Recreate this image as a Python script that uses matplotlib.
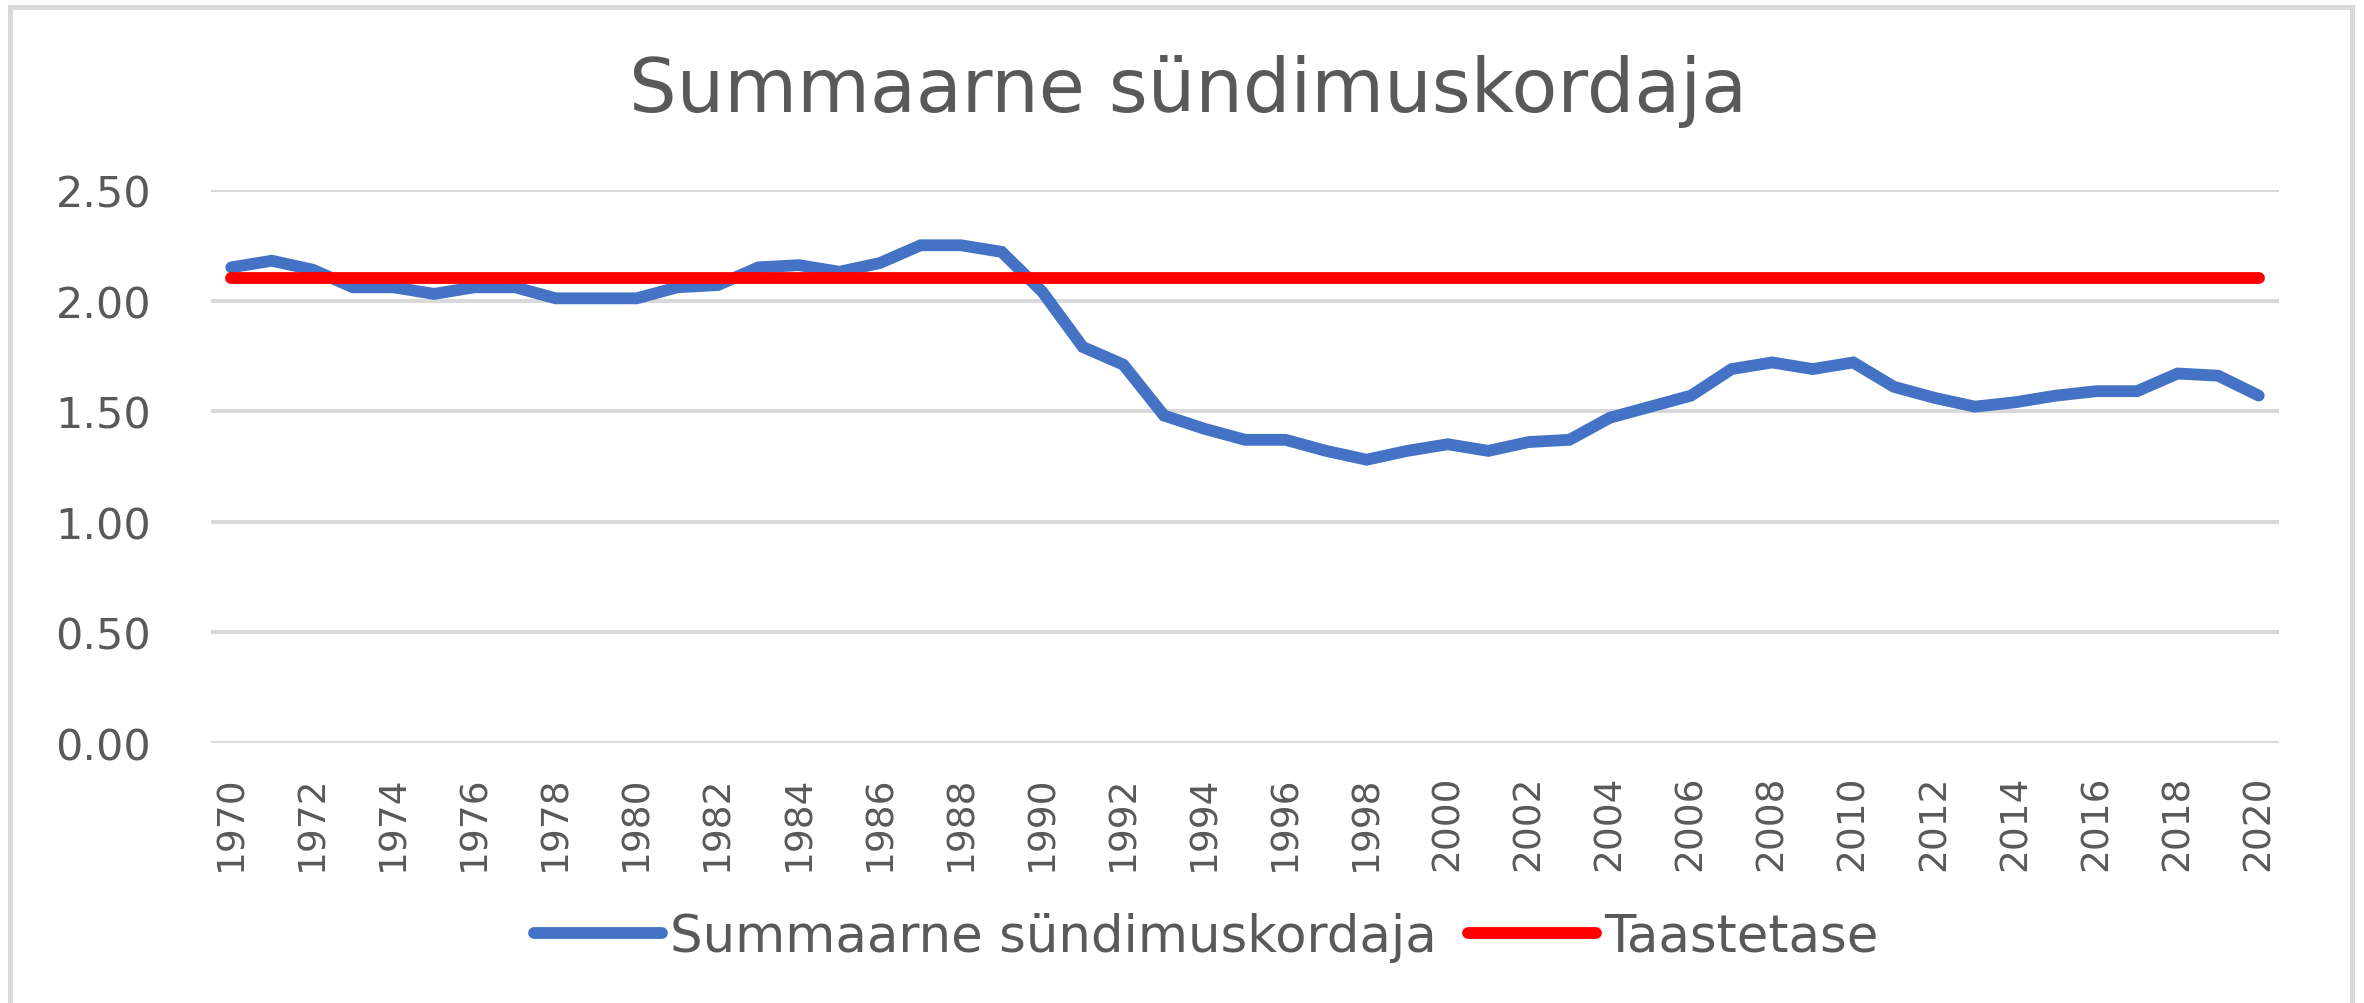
import matplotlib
matplotlib.use("Agg")
import matplotlib.pyplot as plt
from matplotlib.patches import Rectangle

years = list(range(1970, 2021))
tfr = [2.15, 2.18, 2.14, 2.06, 2.06, 2.03, 2.06, 2.06, 2.01, 2.01,
       2.01, 2.06, 2.07, 2.15, 2.16, 2.13, 2.17, 2.25, 2.25, 2.22,
       2.04, 1.79, 1.71, 1.48, 1.42, 1.37, 1.37, 1.32, 1.28, 1.32,
       1.35, 1.32, 1.36, 1.37, 1.47, 1.52, 1.57, 1.69, 1.72, 1.69,
       1.72, 1.61, 1.56, 1.52, 1.54, 1.57, 1.59, 1.59, 1.67, 1.66,
       1.57]
replacement = [2.10] * len(years)
yticks = [0.0, 0.5, 1.0, 1.5, 2.0, 2.5]
title = "Summaarne sündimuskordaja"
series_names = ["Summaarne sündimuskordaja", "Taastetase"]

W, H = 2364, 1004
fig = plt.figure(figsize=(W / 100, H / 100), dpi=100)
fig.patch.set_facecolor("white")

TXT = "#595959"
GRID = "#d9d9d9"

# chart-area border
fig.patches.append(Rectangle((10 / W, -0.02), (2352 - 10) / W, 1 - 8 / H + 0.02,
                             transform=fig.transFigure, fill=False,
                             edgecolor=GRID, linewidth=3.6, zorder=0))

ax = fig.add_axes([211 / W, 1 - 743.7 / H, (2279 - 211) / W, (743.7 - 191) / H])
x = list(range(len(years)))
ax.plot(x, tfr, color="#4472C4", lw=8.5, solid_capstyle="round",
        solid_joinstyle="miter", label=series_names[0], zorder=3)
ax.plot(x, replacement, color="#FF0000", lw=8.5, solid_capstyle="round",
        label=series_names[1], zorder=4)

ax.set_xlim(-0.5, len(years) - 0.5)
ax.set_ylim(0, 2.5)
ax.set_yticks(yticks)
ax.set_yticklabels([f"{v:.2f}" for v in yticks], fontsize=31, color=TXT,
                   family="DejaVu Sans")
ax.set_xticks(x[::2])
ax.set_xticklabels([str(y) for y in years[::2]], rotation=90, fontsize=27,
                   color=TXT, family="DejaVu Sans", ha="center", va="top")
ax.tick_params(axis="y", length=0, pad=43)
ax.tick_params(axis="x", length=0, pad=23)
ax.grid(axis="y", color=GRID, lw=2.9, zorder=0)
ax.set_axisbelow(True)
for s in ax.spines.values():
    s.set_visible(False)

fig.text(1188 / W, 1 - 111.7 / H, title, ha="center", va="baseline",
         fontsize=54, color=TXT, family="DejaVu Sans")

leg = fig.legend(loc="center", bbox_to_anchor=(1206 / W, 1 - 938 / H), ncol=2,
                 frameon=False, handlelength=2.5, handletextpad=0.15,
                 columnspacing=0.6, prop={"family": "DejaVu Sans", "size": 37})
for t in leg.get_texts():
    t.set_color(TXT)
for h in leg.legend_handles:
    h.set_linewidth(8.5)

fig.savefig("out.png", dpi=100, facecolor="white")
